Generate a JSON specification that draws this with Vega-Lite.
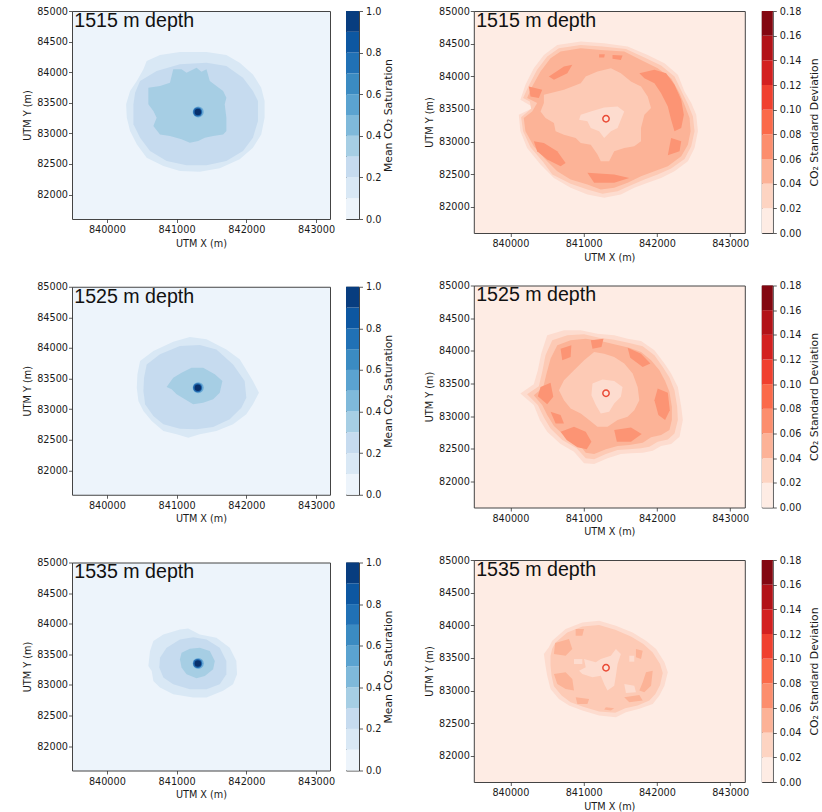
{
"$schema": "https://vega.github.io/schema/vega-lite/v6.json",
"autosize": "none",
"padding": {"left": 72, "top": 11, "right": 750, "bottom": 801},
"background": "white",
"config": {
 "font": "DejaVu Sans",
 "view": {"stroke": "#444"},
 "axis": {"labelFont": "DejaVu Sans", "labelFontSize": 9.7, "labelColor": "#1a1a1a", "titleFont": "DejaVu Sans", "titleFontSize": 9.7, "titleFontWeight": "normal", "titleColor": "#1a1a1a", "tickColor": "#333", "tickSize": 3.5, "tickWidth": 0.8, "domain": false, "grid": false, "labelFlush": false, "labelOverlap": false}
},
"datasets": {
 "cbS": [{"lo":0,"hi":0.1,"b":"b0"},{"lo":0.1,"hi":0.2,"b":"b1"},{"lo":0.2,"hi":0.3,"b":"b2"},{"lo":0.3,"hi":0.4,"b":"b3"},{"lo":0.4,"hi":0.5,"b":"b4"},{"lo":0.5,"hi":0.6,"b":"b5"},{"lo":0.6,"hi":0.7,"b":"b6"},{"lo":0.7,"hi":0.8,"b":"b7"},{"lo":0.8,"hi":0.9,"b":"b8"},{"lo":0.9,"hi":1.0,"b":"b9"}],
 "cbR": [{"lo":0,"hi":0.02,"b":"r0"},{"lo":0.02,"hi":0.04,"b":"r1"},{"lo":0.04,"hi":0.06,"b":"r2"},{"lo":0.06,"hi":0.08,"b":"r3"},{"lo":0.08,"hi":0.1,"b":"r4"},{"lo":0.1,"hi":0.12,"b":"r5"},{"lo":0.12,"hi":0.14,"b":"r6"},{"lo":0.14,"hi":0.16,"b":"r7"},{"lo":0.16,"hi":0.18,"b":"r8"}],
 "dots": [{"x":841310,"y":83350,"b":"d1"},{"x":841302,"y":83350,"b":"d2"},{"x":841305,"y":83350,"b":"d3"}],
 "ring": [{"x":841305,"y":83350}],
 "sat1515": [
{"p":1,"b":"B1","x":840524,"y":84046},{"p":1,"b":"B1","x":840571,"y":84182},{"p":1,"b":"B1","x":840762,"y":84281},{"p":1,"b":"B1","x":841048,"y":84330},{"p":1,"b":"B1","x":841429,"y":84330},{"p":1,"b":"B1","x":841714,"y":84281},{"p":1,"b":"B1","x":841905,"y":84155},{"p":1,"b":"B1","x":842095,"y":83964},{"p":1,"b":"B1","x":842214,"y":83746},{"p":1,"b":"B1","x":842262,"y":83528},{"p":1,"b":"B1","x":842262,"y":83256},{"p":1,"b":"B1","x":842214,"y":82983},{"p":1,"b":"B1","x":842095,"y":82765},{"p":1,"b":"B1","x":841905,"y":82575},{"p":1,"b":"B1","x":841619,"y":82428},{"p":1,"b":"B1","x":841333,"y":82373},{"p":1,"b":"B1","x":841048,"y":82384},{"p":1,"b":"B1","x":840810,"y":82466},{"p":1,"b":"B1","x":840571,"y":82602},{"p":1,"b":"B1","x":840429,"y":82820},{"p":1,"b":"B1","x":840333,"y":83038},{"p":1,"b":"B1","x":840286,"y":83256},{"p":1,"b":"B1","x":840276,"y":83474},{"p":1,"b":"B1","x":840333,"y":83692},{"p":1,"b":"B1","x":840429,"y":83855},
{"p":2,"b":"B2","x":840476,"y":83855},{"p":2,"b":"B2","x":840714,"y":84019},{"p":2,"b":"B2","x":841048,"y":84128},{"p":2,"b":"B2","x":841429,"y":84155},{"p":2,"b":"B2","x":841714,"y":84101},{"p":2,"b":"B2","x":841952,"y":83910},{"p":2,"b":"B2","x":842095,"y":83692},{"p":2,"b":"B2","x":842167,"y":83528},{"p":2,"b":"B2","x":842167,"y":83201},{"p":2,"b":"B2","x":842095,"y":82929},{"p":2,"b":"B2","x":841952,"y":82711},{"p":2,"b":"B2","x":841714,"y":82547},{"p":2,"b":"B2","x":841429,"y":82477},{"p":2,"b":"B2","x":841143,"y":82477},{"p":2,"b":"B2","x":840857,"y":82547},{"p":2,"b":"B2","x":840619,"y":82711},{"p":2,"b":"B2","x":840476,"y":82929},{"p":2,"b":"B2","x":840381,"y":83147},{"p":2,"b":"B2","x":840381,"y":83474},{"p":2,"b":"B2","x":840405,"y":83665},
{"p":3,"b":"B3","x":840595,"y":83746},{"p":3,"b":"B3","x":840762,"y":83774},{"p":3,"b":"B3","x":840905,"y":83828},{"p":3,"b":"B3","x":840952,"y":84046},{"p":3,"b":"B3","x":841071,"y":84046},{"p":3,"b":"B3","x":841143,"y":83992},{"p":3,"b":"B3","x":841214,"y":84030},{"p":3,"b":"B3","x":841286,"y":84073},{"p":3,"b":"B3","x":841357,"y":84008},{"p":3,"b":"B3","x":841429,"y":84046},{"p":3,"b":"B3","x":841476,"y":83855},{"p":3,"b":"B3","x":841571,"y":83774},{"p":3,"b":"B3","x":841667,"y":83692},{"p":3,"b":"B3","x":841714,"y":83583},{"p":3,"b":"B3","x":841690,"y":83474},{"p":3,"b":"B3","x":841714,"y":83256},{"p":3,"b":"B3","x":841714,"y":83038},{"p":3,"b":"B3","x":841667,"y":82983},{"p":3,"b":"B3","x":841524,"y":82956},{"p":3,"b":"B3","x":841405,"y":82929},{"p":3,"b":"B3","x":841310,"y":82874},{"p":3,"b":"B3","x":841190,"y":82847},{"p":3,"b":"B3","x":841071,"y":82902},{"p":3,"b":"B3","x":840905,"y":82956},{"p":3,"b":"B3","x":840762,"y":82983},{"p":3,"b":"B3","x":840667,"y":83120},{"p":3,"b":"B3","x":840714,"y":83256},{"p":3,"b":"B3","x":840667,"y":83365},{"p":3,"b":"B3","x":840595,"y":83474},{"p":3,"b":"B3","x":840595,"y":83637}
 ],
 "sat1525": [
{"p":1,"b":"B1","x":840476,"y":83786},{"p":1,"b":"B1","x":840667,"y":83949},{"p":1,"b":"B1","x":840952,"y":84102},{"p":1,"b":"B1","x":841190,"y":84178},{"p":1,"b":"B1","x":841429,"y":84140},{"p":1,"b":"B1","x":841714,"y":83976},{"p":1,"b":"B1","x":841905,"y":83813},{"p":1,"b":"B1","x":842024,"y":83595},{"p":1,"b":"B1","x":842095,"y":83459},{"p":1,"b":"B1","x":842181,"y":83268},{"p":1,"b":"B1","x":842095,"y":83078},{"p":1,"b":"B1","x":842000,"y":82915},{"p":1,"b":"B1","x":841810,"y":82751},{"p":1,"b":"B1","x":841571,"y":82642},{"p":1,"b":"B1","x":841333,"y":82588},{"p":1,"b":"B1","x":841167,"y":82533},{"p":1,"b":"B1","x":841000,"y":82588},{"p":1,"b":"B1","x":840810,"y":82642},{"p":1,"b":"B1","x":840643,"y":82806},{"p":1,"b":"B1","x":840524,"y":82969},{"p":1,"b":"B1","x":840452,"y":83132},{"p":1,"b":"B1","x":840429,"y":83350},{"p":1,"b":"B1","x":840438,"y":83568},
{"p":2,"b":"B2","x":840571,"y":83731},{"p":2,"b":"B2","x":840762,"y":83895},{"p":2,"b":"B2","x":841048,"y":84031},{"p":2,"b":"B2","x":841333,"y":84047},{"p":2,"b":"B2","x":841571,"y":83976},{"p":2,"b":"B2","x":841810,"y":83731},{"p":2,"b":"B2","x":841976,"y":83459},{"p":2,"b":"B2","x":842000,"y":83187},{"p":2,"b":"B2","x":841929,"y":83023},{"p":2,"b":"B2","x":841762,"y":82833},{"p":2,"b":"B2","x":841524,"y":82708},{"p":2,"b":"B2","x":841286,"y":82670},{"p":2,"b":"B2","x":841048,"y":82680},{"p":2,"b":"B2","x":840810,"y":82751},{"p":2,"b":"B2","x":840667,"y":82887},{"p":2,"b":"B2","x":840548,"y":83078},{"p":2,"b":"B2","x":840524,"y":83296},{"p":2,"b":"B2","x":840533,"y":83514},
{"p":3,"b":"B3","x":840857,"y":83361},{"p":3,"b":"B3","x":840952,"y":83514},{"p":3,"b":"B3","x":841071,"y":83595},{"p":3,"b":"B3","x":841214,"y":83677},{"p":3,"b":"B3","x":841381,"y":83677},{"p":3,"b":"B3","x":841548,"y":83568},{"p":3,"b":"B3","x":841657,"y":83459},{"p":3,"b":"B3","x":841619,"y":83268},{"p":3,"b":"B3","x":841524,"y":83160},{"p":3,"b":"B3","x":841381,"y":83105},{"p":3,"b":"B3","x":841238,"y":83078},{"p":3,"b":"B3","x":841119,"y":83160},{"p":3,"b":"B3","x":841000,"y":83241},{"p":3,"b":"B3","x":840929,"y":83323}
 ],
 "sat1535": [
{"p":1,"b":"B1","x":840667,"y":83715},{"p":1,"b":"B1","x":840810,"y":83824},{"p":1,"b":"B1","x":841048,"y":83905},{"p":1,"b":"B1","x":841167,"y":83921},{"p":1,"b":"B1","x":841333,"y":83824},{"p":1,"b":"B1","x":841571,"y":83770},{"p":1,"b":"B1","x":841762,"y":83607},{"p":1,"b":"B1","x":841857,"y":83390},{"p":1,"b":"B1","x":841867,"y":83173},{"p":1,"b":"B1","x":841810,"y":83011},{"p":1,"b":"B1","x":841667,"y":82902},{"p":1,"b":"B1","x":841429,"y":82794},{"p":1,"b":"B1","x":841238,"y":82794},{"p":1,"b":"B1","x":840952,"y":82848},{"p":1,"b":"B1","x":840762,"y":82957},{"p":1,"b":"B1","x":840667,"y":83065},{"p":1,"b":"B1","x":840643,"y":83228},{"p":1,"b":"B1","x":840595,"y":83309},{"p":1,"b":"B1","x":840619,"y":83553},
{"p":2,"b":"B2","x":840762,"y":83444},{"p":2,"b":"B2","x":840857,"y":83607},{"p":2,"b":"B2","x":841048,"y":83743},{"p":2,"b":"B2","x":841238,"y":83780},{"p":2,"b":"B2","x":841429,"y":83743},{"p":2,"b":"B2","x":841619,"y":83607},{"p":2,"b":"B2","x":841714,"y":83390},{"p":2,"b":"B2","x":841714,"y":83173},{"p":2,"b":"B2","x":841619,"y":83011},{"p":2,"b":"B2","x":841429,"y":82930},{"p":2,"b":"B2","x":841190,"y":82930},{"p":2,"b":"B2","x":840952,"y":83011},{"p":2,"b":"B2","x":840810,"y":83119},{"p":2,"b":"B2","x":840752,"y":83282},
{"p":3,"b":"B3","x":841071,"y":83526},{"p":3,"b":"B3","x":841190,"y":83591},{"p":3,"b":"B3","x":841333,"y":83607},{"p":3,"b":"B3","x":841476,"y":83553},{"p":3,"b":"B3","x":841548,"y":83390},{"p":3,"b":"B3","x":841524,"y":83255},{"p":3,"b":"B3","x":841405,"y":83146},{"p":3,"b":"B3","x":841286,"y":83108},{"p":3,"b":"B3","x":841143,"y":83173},{"p":3,"b":"B3","x":841071,"y":83282},{"p":3,"b":"B3","x":841048,"y":83417}
 ],
 "sd1515": [
{"p":1,"b":"c1","x":840639,"y":84480},{"p":1,"b":"c1","x":840960,"y":84531},{"p":1,"b":"c1","x":841280,"y":84506},{"p":1,"b":"c1","x":841600,"y":84455},{"p":1,"b":"c1","x":841874,"y":84328},{"p":1,"b":"c1","x":842103,"y":84200},{"p":1,"b":"c1","x":842286,"y":84022},{"p":1,"b":"c1","x":842377,"y":83768},{"p":1,"b":"c1","x":842469,"y":83590},{"p":1,"b":"c1","x":842537,"y":83411},{"p":1,"b":"c1","x":842560,"y":83157},{"p":1,"b":"c1","x":842514,"y":82902},{"p":1,"b":"c1","x":842423,"y":82699},{"p":1,"b":"c1","x":842240,"y":82546},{"p":1,"b":"c1","x":842057,"y":82444},{"p":1,"b":"c1","x":841874,"y":82368},{"p":1,"b":"c1","x":841691,"y":82292},{"p":1,"b":"c1","x":841508,"y":82190},{"p":1,"b":"c1","x":841280,"y":82139},{"p":1,"b":"c1","x":841051,"y":82190},{"p":1,"b":"c1","x":840822,"y":82292},{"p":1,"b":"c1","x":840594,"y":82444},{"p":1,"b":"c1","x":840411,"y":82648},{"p":1,"b":"c1","x":840228,"y":82902},{"p":1,"b":"c1","x":840136,"y":83157},{"p":1,"b":"c1","x":840114,"y":83411},{"p":1,"b":"c1","x":840319,"y":83523},{"p":1,"b":"c1","x":840136,"y":83641},{"p":1,"b":"c1","x":840205,"y":83870},{"p":1,"b":"c1","x":840319,"y":84124},{"p":1,"b":"c1","x":840457,"y":84328},
{"p":2,"b":"c2","x":840662,"y":84429},{"p":2,"b":"c2","x":840960,"y":84480},{"p":2,"b":"c2","x":841257,"y":84455},{"p":2,"b":"c2","x":841577,"y":84419},{"p":2,"b":"c2","x":841829,"y":84287},{"p":2,"b":"c2","x":842057,"y":84165},{"p":2,"b":"c2","x":842240,"y":83997},{"p":2,"b":"c2","x":842345,"y":83753},{"p":2,"b":"c2","x":842423,"y":83575},{"p":2,"b":"c2","x":842492,"y":83386},{"p":2,"b":"c2","x":842514,"y":83157},{"p":2,"b":"c2","x":842469,"y":82928},{"p":2,"b":"c2","x":842377,"y":82735},{"p":2,"b":"c2","x":842194,"y":82587},{"p":2,"b":"c2","x":842011,"y":82495},{"p":2,"b":"c2","x":841829,"y":82419},{"p":2,"b":"c2","x":841646,"y":82333},{"p":2,"b":"c2","x":841463,"y":82241},{"p":2,"b":"c2","x":841257,"y":82200},{"p":2,"b":"c2","x":841051,"y":82266},{"p":2,"b":"c2","x":840822,"y":82353},{"p":2,"b":"c2","x":840572,"y":82495},{"p":2,"b":"c2","x":840447,"y":82689},{"p":2,"b":"c2","x":840274,"y":82912},{"p":2,"b":"c2","x":840173,"y":83157},{"p":2,"b":"c2","x":840146,"y":83371},{"p":2,"b":"c2","x":840283,"y":83503},{"p":2,"b":"c2","x":840265,"y":83615},{"p":2,"b":"c2","x":840173,"y":83666},{"p":2,"b":"c2","x":840251,"y":83860},{"p":2,"b":"c2","x":840365,"y":84099},{"p":2,"b":"c2","x":840502,"y":84302},
{"p":3,"b":"c3","x":840685,"y":84379},{"p":3,"b":"c3","x":840960,"y":84429},{"p":3,"b":"c3","x":841234,"y":84404},{"p":3,"b":"c3","x":841554,"y":84379},{"p":3,"b":"c3","x":841783,"y":84251},{"p":3,"b":"c3","x":842011,"y":84124},{"p":3,"b":"c3","x":842194,"y":83971},{"p":3,"b":"c3","x":842309,"y":83742},{"p":3,"b":"c3","x":842377,"y":83564},{"p":3,"b":"c3","x":842446,"y":83361},{"p":3,"b":"c3","x":842460,"y":83157},{"p":3,"b":"c3","x":842423,"y":82953},{"p":3,"b":"c3","x":842332,"y":82775},{"p":3,"b":"c3","x":842149,"y":82623},{"p":3,"b":"c3","x":841966,"y":82546},{"p":3,"b":"c3","x":841783,"y":82470},{"p":3,"b":"c3","x":841600,"y":82368},{"p":3,"b":"c3","x":841417,"y":82292},{"p":3,"b":"c3","x":841234,"y":82266},{"p":3,"b":"c3","x":841051,"y":82343},{"p":3,"b":"c3","x":840822,"y":82419},{"p":3,"b":"c3","x":840639,"y":82546},{"p":3,"b":"c3","x":840479,"y":82724},{"p":3,"b":"c3","x":840319,"y":82928},{"p":3,"b":"c3","x":840205,"y":83157},{"p":3,"b":"c3","x":840182,"y":83361},{"p":3,"b":"c3","x":840297,"y":83462},{"p":3,"b":"c3","x":840365,"y":83590},{"p":3,"b":"c3","x":840228,"y":83666},{"p":3,"b":"c3","x":840297,"y":83844},{"p":3,"b":"c3","x":840411,"y":84073},{"p":3,"b":"c3","x":840548,"y":84277},
{"p":4,"b":"c4","x":840525,"y":83997},{"p":4,"b":"c4","x":840731,"y":84150},{"p":4,"b":"c4","x":840845,"y":84175},{"p":4,"b":"c4","x":840777,"y":84048},{"p":4,"b":"c4","x":840594,"y":83946},
{"p":5,"b":"c4","x":841394,"y":84328},{"p":5,"b":"c4","x":841531,"y":84318},{"p":5,"b":"c4","x":841508,"y":84251},{"p":5,"b":"c4","x":841394,"y":84267},
{"p":6,"b":"c4","x":841211,"y":84338},{"p":6,"b":"c4","x":841289,"y":84338},{"p":6,"b":"c4","x":841280,"y":84287},{"p":6,"b":"c4","x":841211,"y":84287},
{"p":7,"b":"c4","x":841760,"y":84048},{"p":7,"b":"c4","x":841966,"y":84099},{"p":7,"b":"c4","x":842126,"y":84048},{"p":7,"b":"c4","x":842240,"y":83870},{"p":7,"b":"c4","x":842332,"y":83641},{"p":7,"b":"c4","x":842368,"y":83411},{"p":7,"b":"c4","x":842332,"y":83208},{"p":7,"b":"c4","x":842240,"y":83157},{"p":7,"b":"c4","x":842194,"y":83335},{"p":7,"b":"c4","x":842149,"y":83539},{"p":7,"b":"c4","x":842057,"y":83742},{"p":7,"b":"c4","x":841966,"y":83895},{"p":7,"b":"c4","x":841829,"y":83971},
{"p":8,"b":"c4","x":842194,"y":83055},{"p":8,"b":"c4","x":842332,"y":83004},{"p":8,"b":"c4","x":842309,"y":82852},{"p":8,"b":"c4","x":842149,"y":82791},
{"p":9,"b":"c4","x":840319,"y":83004},{"p":9,"b":"c4","x":840457,"y":82979},{"p":9,"b":"c4","x":840639,"y":82852},{"p":9,"b":"c4","x":840754,"y":82673},{"p":9,"b":"c4","x":840685,"y":82623},{"p":9,"b":"c4","x":840502,"y":82724},{"p":9,"b":"c4","x":840365,"y":82852},
{"p":10,"b":"c4","x":841051,"y":82521},{"p":10,"b":"c4","x":841417,"y":82495},{"p":10,"b":"c4","x":841623,"y":82444},{"p":10,"b":"c4","x":841417,"y":82368},{"p":10,"b":"c4","x":841143,"y":82368},
{"p":11,"b":"c4","x":840251,"y":83844},{"p":11,"b":"c4","x":840434,"y":83793},{"p":11,"b":"c4","x":840388,"y":83666},{"p":11,"b":"c4","x":840274,"y":83691},
{"p":12,"b":"c2","x":840457,"y":83717},{"p":12,"b":"c2","x":840731,"y":83793},{"p":12,"b":"c2","x":840960,"y":83895},{"p":12,"b":"c2","x":841028,"y":83997},{"p":12,"b":"c2","x":841189,"y":84073},{"p":12,"b":"c2","x":841372,"y":84124},{"p":12,"b":"c2","x":841508,"y":84048},{"p":12,"b":"c2","x":841646,"y":83920},{"p":12,"b":"c2","x":841783,"y":83844},{"p":12,"b":"c2","x":841874,"y":83691},{"p":12,"b":"c2","x":841920,"y":83513},{"p":12,"b":"c2","x":841829,"y":83411},{"p":12,"b":"c2","x":841783,"y":83208},{"p":12,"b":"c2","x":841783,"y":83004},{"p":12,"b":"c2","x":841691,"y":82928},{"p":12,"b":"c2","x":841554,"y":82902},{"p":12,"b":"c2","x":841417,"y":82852},{"p":12,"b":"c2","x":841348,"y":82699},{"p":12,"b":"c2","x":841234,"y":82699},{"p":12,"b":"c2","x":841189,"y":82801},{"p":12,"b":"c2","x":841097,"y":82953},{"p":12,"b":"c2","x":840960,"y":82979},{"p":12,"b":"c2","x":840891,"y":83055},{"p":12,"b":"c2","x":840731,"y":83106},{"p":12,"b":"c2","x":840617,"y":83157},{"p":12,"b":"c2","x":840594,"y":83284},{"p":12,"b":"c2","x":840479,"y":83361},{"p":12,"b":"c2","x":840411,"y":83462},{"p":12,"b":"c2","x":840457,"y":83590},
{"p":13,"b":"c1","x":840960,"y":83411},{"p":13,"b":"c1","x":841097,"y":83462},{"p":13,"b":"c1","x":841280,"y":83523},{"p":13,"b":"c1","x":841463,"y":83539},{"p":13,"b":"c1","x":841554,"y":83462},{"p":13,"b":"c1","x":841508,"y":83335},{"p":13,"b":"c1","x":841463,"y":83208},{"p":13,"b":"c1","x":841372,"y":83157},{"p":13,"b":"c1","x":841280,"y":83055},{"p":13,"b":"c1","x":841211,"y":83157},{"p":13,"b":"c1","x":841097,"y":83208},{"p":13,"b":"c1","x":841051,"y":83310},{"p":13,"b":"c1","x":840937,"y":83335}
 ],
 "sd1525": [
{"p":1,"b":"c1","x":840502,"y":84237},{"p":1,"b":"c1","x":840731,"y":84313},{"p":1,"b":"c1","x":840960,"y":84313},{"p":1,"b":"c1","x":841188,"y":84262},{"p":1,"b":"c1","x":841417,"y":84237},{"p":1,"b":"c1","x":841600,"y":84186},{"p":1,"b":"c1","x":841783,"y":84150},{"p":1,"b":"c1","x":841966,"y":84007},{"p":1,"b":"c1","x":842103,"y":83804},{"p":1,"b":"c1","x":842194,"y":83651},{"p":1,"b":"c1","x":842286,"y":83447},{"p":1,"b":"c1","x":842332,"y":83142},{"p":1,"b":"c1","x":842354,"y":82939},{"p":1,"b":"c1","x":842309,"y":82684},{"p":1,"b":"c1","x":842194,"y":82572},{"p":1,"b":"c1","x":842057,"y":82541},{"p":1,"b":"c1","x":841943,"y":82470},{"p":1,"b":"c1","x":841806,"y":82440},{"p":1,"b":"c1","x":841646,"y":82429},{"p":1,"b":"c1","x":841508,"y":82419},{"p":1,"b":"c1","x":841326,"y":82353},{"p":1,"b":"c1","x":841143,"y":82267},{"p":1,"b":"c1","x":841006,"y":82277},{"p":1,"b":"c1","x":840868,"y":82455},{"p":1,"b":"c1","x":840685,"y":82572},{"p":1,"b":"c1","x":840502,"y":82760},{"p":1,"b":"c1","x":840402,"y":82939},{"p":1,"b":"c1","x":840319,"y":83168},{"p":1,"b":"c1","x":840136,"y":83346},{"p":1,"b":"c1","x":840319,"y":83488},{"p":1,"b":"c1","x":840374,"y":83702},{"p":1,"b":"c1","x":840420,"y":83956},
{"p":2,"b":"c2","x":840571,"y":84160},{"p":2,"b":"c2","x":840777,"y":84237},{"p":2,"b":"c2","x":841006,"y":84252},{"p":2,"b":"c2","x":841211,"y":84201},{"p":2,"b":"c2","x":841417,"y":84170},{"p":2,"b":"c2","x":841623,"y":84119},{"p":2,"b":"c2","x":841806,"y":84068},{"p":2,"b":"c2","x":841966,"y":83931},{"p":2,"b":"c2","x":842080,"y":83753},{"p":2,"b":"c2","x":842171,"y":83590},{"p":2,"b":"c2","x":842240,"y":83397},{"p":2,"b":"c2","x":842277,"y":83142},{"p":2,"b":"c2","x":842286,"y":82939},{"p":2,"b":"c2","x":842240,"y":82735},{"p":2,"b":"c2","x":842149,"y":82643},{"p":2,"b":"c2","x":842011,"y":82608},{"p":2,"b":"c2","x":841897,"y":82531},{"p":2,"b":"c2","x":841783,"y":82506},{"p":2,"b":"c2","x":841623,"y":82491},{"p":2,"b":"c2","x":841463,"y":82480},{"p":2,"b":"c2","x":841303,"y":82419},{"p":2,"b":"c2","x":841143,"y":82338},{"p":2,"b":"c2","x":841028,"y":82353},{"p":2,"b":"c2","x":840905,"y":82506},{"p":2,"b":"c2","x":840708,"y":82633},{"p":2,"b":"c2","x":840548,"y":82811},{"p":2,"b":"c2","x":840457,"y":82979},{"p":2,"b":"c2","x":840374,"y":83168},{"p":2,"b":"c2","x":840228,"y":83336},{"p":2,"b":"c2","x":840388,"y":83458},{"p":2,"b":"c2","x":840434,"y":83677},{"p":2,"b":"c2","x":840479,"y":83931},
{"p":3,"b":"c3","x":840640,"y":84084},{"p":3,"b":"c3","x":840822,"y":84160},{"p":3,"b":"c3","x":841028,"y":84186},{"p":3,"b":"c3","x":841234,"y":84150},{"p":3,"b":"c3","x":841417,"y":84099},{"p":3,"b":"c3","x":841623,"y":84048},{"p":3,"b":"c3","x":841783,"y":83982},{"p":3,"b":"c3","x":841920,"y":83855},{"p":3,"b":"c3","x":842034,"y":83702},{"p":3,"b":"c3","x":842112,"y":83539},{"p":3,"b":"c3","x":842171,"y":83371},{"p":3,"b":"c3","x":842204,"y":83142},{"p":3,"b":"c3","x":842204,"y":82939},{"p":3,"b":"c3","x":842171,"y":82786},{"p":3,"b":"c3","x":842057,"y":82709},{"p":3,"b":"c3","x":841920,"y":82674},{"p":3,"b":"c3","x":841806,"y":82592},{"p":3,"b":"c3","x":841623,"y":82557},{"p":3,"b":"c3","x":841463,"y":82542},{"p":3,"b":"c3","x":841303,"y":82491},{"p":3,"b":"c3","x":841143,"y":82419},{"p":3,"b":"c3","x":841028,"y":82440},{"p":3,"b":"c3","x":840937,"y":82572},{"p":3,"b":"c3","x":840754,"y":82684},{"p":3,"b":"c3","x":840594,"y":82847},{"p":3,"b":"c3","x":840502,"y":83015},{"p":3,"b":"c3","x":840434,"y":83168},{"p":3,"b":"c3","x":840319,"y":83320},{"p":3,"b":"c3","x":840447,"y":83437},{"p":3,"b":"c3","x":840493,"y":83651},{"p":3,"b":"c3","x":840548,"y":83880},
{"p":4,"b":"c4","x":840411,"y":83447},{"p":4,"b":"c4","x":840548,"y":83509},{"p":4,"b":"c4","x":840585,"y":83295},{"p":4,"b":"c4","x":840502,"y":83183},{"p":4,"b":"c4","x":840374,"y":83305},
{"p":5,"b":"c4","x":840548,"y":83066},{"p":5,"b":"c4","x":840685,"y":83015},{"p":5,"b":"c4","x":840731,"y":82888},{"p":5,"b":"c4","x":840617,"y":82888},
{"p":6,"b":"c4","x":840685,"y":82760},{"p":6,"b":"c4","x":840868,"y":82837},{"p":6,"b":"c4","x":841028,"y":82760},{"p":6,"b":"c4","x":841106,"y":82608},{"p":6,"b":"c4","x":841042,"y":82491},{"p":6,"b":"c4","x":840914,"y":82521},{"p":6,"b":"c4","x":840768,"y":82633},
{"p":7,"b":"c4","x":841417,"y":82786},{"p":7,"b":"c4","x":841646,"y":82827},{"p":7,"b":"c4","x":841792,"y":82725},{"p":7,"b":"c4","x":841646,"y":82608},{"p":7,"b":"c4","x":841453,"y":82608},
{"p":8,"b":"c4","x":842011,"y":83422},{"p":8,"b":"c4","x":842149,"y":83356},{"p":8,"b":"c4","x":842176,"y":83091},{"p":8,"b":"c4","x":842112,"y":82939},{"p":8,"b":"c4","x":842020,"y":83015},{"p":8,"b":"c4","x":841966,"y":83244},
{"p":9,"b":"c4","x":841600,"y":84048},{"p":9,"b":"c4","x":841783,"y":83956},{"p":9,"b":"c4","x":841911,"y":83804},{"p":9,"b":"c4","x":841806,"y":83753},{"p":9,"b":"c4","x":841636,"y":83895},
{"p":10,"b":"c4","x":840685,"y":84033},{"p":10,"b":"c4","x":840832,"y":84084},{"p":10,"b":"c4","x":840822,"y":83906},{"p":10,"b":"c4","x":840708,"y":83855},
{"p":11,"b":"c4","x":841097,"y":84160},{"p":11,"b":"c4","x":841271,"y":84186},{"p":11,"b":"c4","x":841243,"y":84058},{"p":11,"b":"c4","x":841120,"y":84033},
{"p":12,"b":"c2","x":840731,"y":83549},{"p":12,"b":"c2","x":840868,"y":83702},{"p":12,"b":"c2","x":841006,"y":83855},{"p":12,"b":"c2","x":841143,"y":83982},{"p":12,"b":"c2","x":841280,"y":83956},{"p":12,"b":"c2","x":841417,"y":83906},{"p":12,"b":"c2","x":841554,"y":83804},{"p":12,"b":"c2","x":841669,"y":83651},{"p":12,"b":"c2","x":841737,"y":83447},{"p":12,"b":"c2","x":841760,"y":83244},{"p":12,"b":"c2","x":841691,"y":83091},{"p":12,"b":"c2","x":841600,"y":82989},{"p":12,"b":"c2","x":841463,"y":82939},{"p":12,"b":"c2","x":841326,"y":82837},{"p":12,"b":"c2","x":841188,"y":82837},{"p":12,"b":"c2","x":841074,"y":82939},{"p":12,"b":"c2","x":840960,"y":83040},{"p":12,"b":"c2","x":840822,"y":83117},{"p":12,"b":"c2","x":840731,"y":83244},{"p":12,"b":"c2","x":840662,"y":83397},
{"p":13,"b":"c1","x":841120,"y":83498},{"p":13,"b":"c1","x":841257,"y":83560},{"p":13,"b":"c1","x":841417,"y":83539},{"p":13,"b":"c1","x":841531,"y":83447},{"p":13,"b":"c1","x":841508,"y":83295},{"p":13,"b":"c1","x":841417,"y":83193},{"p":13,"b":"c1","x":841348,"y":83066},{"p":13,"b":"c1","x":841234,"y":83040},{"p":13,"b":"c1","x":841166,"y":83168},{"p":13,"b":"c1","x":841106,"y":83320}
 ],
 "sd1535": [
{"p":1,"b":"c1","x":840571,"y":83763},{"p":1,"b":"c1","x":840754,"y":83942},{"p":1,"b":"c1","x":840982,"y":84043},{"p":1,"b":"c1","x":841211,"y":84069},{"p":1,"b":"c1","x":841440,"y":83992},{"p":1,"b":"c1","x":841668,"y":83891},{"p":1,"b":"c1","x":841851,"y":83763},{"p":1,"b":"c1","x":841989,"y":83636},{"p":1,"b":"c1","x":842103,"y":83433},{"p":1,"b":"c1","x":842149,"y":83280},{"p":1,"b":"c1","x":842103,"y":83076},{"p":1,"b":"c1","x":842034,"y":82924},{"p":1,"b":"c1","x":841943,"y":82796},{"p":1,"b":"c1","x":841760,"y":82720},{"p":1,"b":"c1","x":841577,"y":82669},{"p":1,"b":"c1","x":841440,"y":82593},{"p":1,"b":"c1","x":841211,"y":82618},{"p":1,"b":"c1","x":840982,"y":82695},{"p":1,"b":"c1","x":840800,"y":82771},{"p":1,"b":"c1","x":840662,"y":82873},{"p":1,"b":"c1","x":840548,"y":83025},{"p":1,"b":"c1","x":840502,"y":83229},{"p":1,"b":"c1","x":840479,"y":83382},{"p":1,"b":"c1","x":840457,"y":83560},{"p":1,"b":"c1","x":840525,"y":83662},
{"p":2,"b":"c2","x":840617,"y":83738},{"p":2,"b":"c2","x":840777,"y":83891},{"p":2,"b":"c2","x":840982,"y":83982},{"p":2,"b":"c2","x":841211,"y":84003},{"p":2,"b":"c2","x":841431,"y":83931},{"p":2,"b":"c2","x":841646,"y":83830},{"p":2,"b":"c2","x":841815,"y":83713},{"p":2,"b":"c2","x":841943,"y":83585},{"p":2,"b":"c2","x":842043,"y":83407},{"p":2,"b":"c2","x":842080,"y":83270},{"p":2,"b":"c2","x":842043,"y":83086},{"p":2,"b":"c2","x":841979,"y":82949},{"p":2,"b":"c2","x":841897,"y":82847},{"p":2,"b":"c2","x":841737,"y":82771},{"p":2,"b":"c2","x":841568,"y":82730},{"p":2,"b":"c2","x":841431,"y":82659},{"p":2,"b":"c2","x":841211,"y":82679},{"p":2,"b":"c2","x":840992,"y":82751},{"p":2,"b":"c2","x":840822,"y":82822},{"p":2,"b":"c2","x":840699,"y":82924},{"p":2,"b":"c2","x":840594,"y":83066},{"p":2,"b":"c2","x":840562,"y":83229},{"p":2,"b":"c2","x":840548,"y":83382},{"p":2,"b":"c2","x":840548,"y":83534},{"p":2,"b":"c2","x":840571,"y":83646},
{"p":3,"b":"c3","x":840610,"y":83730},{"p":3,"b":"c3","x":840800,"y":83789},{"p":3,"b":"c3","x":840845,"y":83636},{"p":3,"b":"c3","x":840754,"y":83534},{"p":3,"b":"c3","x":840594,"y":83560},
{"p":4,"b":"c3","x":840891,"y":83942},{"p":4,"b":"c3","x":841005,"y":83942},{"p":4,"b":"c3","x":840982,"y":83840},{"p":4,"b":"c3","x":840891,"y":83840},
{"p":5,"b":"c3","x":840594,"y":83254},{"p":5,"b":"c3","x":840754,"y":83280},{"p":5,"b":"c3","x":840845,"y":83178},{"p":5,"b":"c3","x":840868,"y":83000},{"p":5,"b":"c3","x":840754,"y":83025},{"p":5,"b":"c3","x":840640,"y":83102},
{"p":6,"b":"c3","x":840891,"y":82898},{"p":6,"b":"c3","x":841074,"y":82873},{"p":6,"b":"c3","x":841051,"y":82796},{"p":6,"b":"c3","x":840914,"y":82796},
{"p":7,"b":"c3","x":841851,"y":83280},{"p":7,"b":"c3","x":841943,"y":83305},{"p":7,"b":"c3","x":841920,"y":83076},{"p":7,"b":"c3","x":841828,"y":82974},{"p":7,"b":"c3","x":841760,"y":83000},{"p":7,"b":"c3","x":841806,"y":83127},
{"p":8,"b":"c3","x":841554,"y":82898},{"p":8,"b":"c3","x":841760,"y":82934},{"p":8,"b":"c3","x":841806,"y":82847},{"p":8,"b":"c3","x":841623,"y":82822},
{"p":9,"b":"c3","x":841714,"y":83636},{"p":9,"b":"c3","x":841806,"y":83611},{"p":9,"b":"c3","x":841783,"y":83483},{"p":9,"b":"c3","x":841714,"y":83509},
{"p":10,"b":"c3","x":841303,"y":82745},{"p":10,"b":"c3","x":841417,"y":82730},{"p":10,"b":"c3","x":841371,"y":82695},{"p":10,"b":"c3","x":841280,"y":82710},
{"p":11,"b":"c1","x":841005,"y":83483},{"p":11,"b":"c1","x":841165,"y":83433},{"p":11,"b":"c1","x":841234,"y":83483},{"p":11,"b":"c1","x":841371,"y":83534},{"p":11,"b":"c1","x":841440,"y":83636},{"p":11,"b":"c1","x":841508,"y":83560},{"p":11,"b":"c1","x":841463,"y":83407},{"p":11,"b":"c1","x":841440,"y":83229},{"p":11,"b":"c1","x":841417,"y":83076},{"p":11,"b":"c1","x":841325,"y":83000},{"p":11,"b":"c1","x":841280,"y":83102},{"p":11,"b":"c1","x":841234,"y":83229},{"p":11,"b":"c1","x":841120,"y":83204},{"p":11,"b":"c1","x":840982,"y":83254},{"p":11,"b":"c1","x":840937,"y":83305},{"p":11,"b":"c1","x":841028,"y":83356},
{"p":12,"b":"c1","x":840868,"y":83483},{"p":12,"b":"c1","x":840982,"y":83483},{"p":12,"b":"c1","x":840982,"y":83407},{"p":12,"b":"c1","x":840868,"y":83407},
{"p":13,"b":"c1","x":841554,"y":83102},{"p":13,"b":"c1","x":841691,"y":83076},{"p":13,"b":"c1","x":841714,"y":82974},{"p":13,"b":"c1","x":841577,"y":82964},
{"p":14,"b":"c1","x":841623,"y":83534},{"p":14,"b":"c1","x":841691,"y":83534},{"p":14,"b":"c1","x":841691,"y":83443},{"p":14,"b":"c1","x":841623,"y":83443}
 ]
},
"spacing": 28.8,
"hconcat": [
 {"spacing": 31.75, "vconcat": [
  {"bounds": "flush", "spacing": 16, "hconcat": [
   {"width": 258, "height": 208, "view": {"fill": "#edf4fb", "stroke": "#444", "strokeWidth": 1},
    "encoding": {
     "x": {"field": "x", "type": "quantitative", "scale": {"domain": [839500, 843200], "nice": false, "zero": false}, "axis": {"values": [840000, 841000, 842000, 843000], "format": "d", "title": "UTM X (m)", "labelPadding": 2, "titlePadding": 4}},
     "y": {"field": "y", "type": "quantitative", "scale": {"domain": [81600, 85000], "nice": false, "zero": false}, "axis": {"values": [82000, 82500, 83000, 83500, 84000, 84500, 85000], "format": "d", "title": "UTM Y (m)", "labelPadding": 1, "titlePadding": 4}}
    },
    "layer": [
     {"data": {"name": "sat1515"}, "mark": {"type": "line", "strokeWidth": 0, "strokeOpacity": 0}, "encoding": {"detail": {"field": "p", "type": "nominal"}, "order": {"value": null}, "fill": {"field": "b", "type": "nominal", "legend": null, "scale": {"domain": ["B1","B2","B3","c1","c2","c3","c4","b0","b1","b2","b3","b4","b5","b6","b7","b8","b9","r0","r1","r2","r3","r4","r5","r6","r7","r8","d1","d2","d3"], "range": ["#d9e8f5","#c6dbef","#a6cee4","#fddccf","#fdcab5","#fcb397","#fc9474","#edf4fb","#d9e8f5","#c6dbef","#a6cee4","#7fb9da","#5ba3d0","#3b8bc2","#2171b5","#0d57a1","#083d7f","#feece4","#fdd4c2","#fcb297","#fc8e6e","#fb6a4a","#f0402f","#d32020","#b21218","#830711","#6aaad5","#2067ad","#08306b"]}}}},
     {"data": {"name": "dots"}, "mark": {"type": "point", "shape": "circle", "filled": true, "strokeWidth": 0, "opacity": 1}, "encoding": {"fill": {"field": "b", "type": "nominal", "legend": null, "scale": {"domain": ["B1","B2","B3","c1","c2","c3","c4","b0","b1","b2","b3","b4","b5","b6","b7","b8","b9","r0","r1","r2","r3","r4","r5","r6","r7","r8","d1","d2","d3"], "range": ["#d9e8f5","#c6dbef","#a6cee4","#fddccf","#fdcab5","#fcb397","#fc9474","#edf4fb","#d9e8f5","#c6dbef","#a6cee4","#7fb9da","#5ba3d0","#3b8bc2","#2171b5","#0d57a1","#083d7f","#feece4","#fdd4c2","#fcb297","#fc8e6e","#fb6a4a","#f0402f","#d32020","#b21218","#830711","#6aaad5","#2067ad","#08306b"]}}, "size": {"field": "b", "type": "ordinal", "legend": null, "scale": {"domain": ["d1","d2","d3"], "range": [121, 42, 12]}}}},
     {"data": {"values": [{"x": 839533, "y": 84740, "label": "1515 m depth"}]}, "mark": {"type": "text", "align": "left", "baseline": "alphabetic", "font": "Liberation Sans", "fontSize": 19.6, "fill": "#111"}, "encoding": {"text": {"field": "label", "type": "nominal"}}}
    ]},
   {"width": 13, "height": 208, "data": {"name": "cbS"}, "view": {"stroke": "#444", "strokeWidth": 1}, "mark": {"type": "rect"},
    "encoding": {
     "y": {"field": "lo", "type": "quantitative", "scale": {"domain": [0, 1], "nice": false, "zero": false}, "axis": {"orient": "right", "values": [0, 0.2, 0.4, 0.6, 0.8, 1], "format": ".1f", "title": "Mean CO₂ Saturation", "titleFontSize": 10.8, "titleAngle": 270, "titleBaseline": "top", "titlePadding": 2, "labelPadding": 3}},
     "y2": {"field": "hi"},
     "fill": {"field": "b", "type": "nominal", "legend": null, "scale": {"domain": ["B1","B2","B3","c1","c2","c3","c4","b0","b1","b2","b3","b4","b5","b6","b7","b8","b9","r0","r1","r2","r3","r4","r5","r6","r7","r8","d1","d2","d3"], "range": ["#d9e8f5","#c6dbef","#a6cee4","#fddccf","#fdcab5","#fcb397","#fc9474","#edf4fb","#d9e8f5","#c6dbef","#a6cee4","#7fb9da","#5ba3d0","#3b8bc2","#2171b5","#0d57a1","#083d7f","#feece4","#fdd4c2","#fcb297","#fc8e6e","#fb6a4a","#f0402f","#d32020","#b21218","#830711","#6aaad5","#2067ad","#08306b"]}}
    }}
  ]},
  {"bounds": "flush", "spacing": 16, "hconcat": [
   {"width": 258, "height": 208, "view": {"fill": "#edf4fb", "stroke": "#444", "strokeWidth": 1},
    "encoding": {
     "x": {"field": "x", "type": "quantitative", "scale": {"domain": [839500, 843200], "nice": false, "zero": false}, "axis": {"values": [840000, 841000, 842000, 843000], "format": "d", "title": "UTM X (m)", "labelPadding": 2, "titlePadding": 4}},
     "y": {"field": "y", "type": "quantitative", "scale": {"domain": [81600, 85000], "nice": false, "zero": false}, "axis": {"values": [82000, 82500, 83000, 83500, 84000, 84500, 85000], "format": "d", "title": "UTM Y (m)", "labelPadding": 1, "titlePadding": 4}}
    },
    "layer": [
     {"data": {"name": "sat1525"}, "mark": {"type": "line", "strokeWidth": 0, "strokeOpacity": 0}, "encoding": {"detail": {"field": "p", "type": "nominal"}, "order": {"value": null}, "fill": {"field": "b", "type": "nominal", "legend": null, "scale": {"domain": ["B1","B2","B3","c1","c2","c3","c4","b0","b1","b2","b3","b4","b5","b6","b7","b8","b9","r0","r1","r2","r3","r4","r5","r6","r7","r8","d1","d2","d3"], "range": ["#d9e8f5","#c6dbef","#a6cee4","#fddccf","#fdcab5","#fcb397","#fc9474","#edf4fb","#d9e8f5","#c6dbef","#a6cee4","#7fb9da","#5ba3d0","#3b8bc2","#2171b5","#0d57a1","#083d7f","#feece4","#fdd4c2","#fcb297","#fc8e6e","#fb6a4a","#f0402f","#d32020","#b21218","#830711","#6aaad5","#2067ad","#08306b"]}}}},
     {"data": {"name": "dots"}, "mark": {"type": "point", "shape": "circle", "filled": true, "strokeWidth": 0, "opacity": 1}, "encoding": {"fill": {"field": "b", "type": "nominal", "legend": null, "scale": {"domain": ["B1","B2","B3","c1","c2","c3","c4","b0","b1","b2","b3","b4","b5","b6","b7","b8","b9","r0","r1","r2","r3","r4","r5","r6","r7","r8","d1","d2","d3"], "range": ["#d9e8f5","#c6dbef","#a6cee4","#fddccf","#fdcab5","#fcb397","#fc9474","#edf4fb","#d9e8f5","#c6dbef","#a6cee4","#7fb9da","#5ba3d0","#3b8bc2","#2171b5","#0d57a1","#083d7f","#feece4","#fdd4c2","#fcb297","#fc8e6e","#fb6a4a","#f0402f","#d32020","#b21218","#830711","#6aaad5","#2067ad","#08306b"]}}, "size": {"field": "b", "type": "ordinal", "legend": null, "scale": {"domain": ["d1","d2","d3"], "range": [121, 42, 12]}}}},
     {"data": {"values": [{"x": 839533, "y": 84740, "label": "1525 m depth"}]}, "mark": {"type": "text", "align": "left", "baseline": "alphabetic", "font": "Liberation Sans", "fontSize": 19.6, "fill": "#111"}, "encoding": {"text": {"field": "label", "type": "nominal"}}}
    ]},
   {"width": 13, "height": 208, "data": {"name": "cbS"}, "view": {"stroke": "#444", "strokeWidth": 1}, "mark": {"type": "rect"},
    "encoding": {
     "y": {"field": "lo", "type": "quantitative", "scale": {"domain": [0, 1], "nice": false, "zero": false}, "axis": {"orient": "right", "values": [0, 0.2, 0.4, 0.6, 0.8, 1], "format": ".1f", "title": "Mean CO₂ Saturation", "titleFontSize": 10.8, "titleAngle": 270, "titleBaseline": "top", "titlePadding": 2, "labelPadding": 3}},
     "y2": {"field": "hi"},
     "fill": {"field": "b", "type": "nominal", "legend": null, "scale": {"domain": ["B1","B2","B3","c1","c2","c3","c4","b0","b1","b2","b3","b4","b5","b6","b7","b8","b9","r0","r1","r2","r3","r4","r5","r6","r7","r8","d1","d2","d3"], "range": ["#d9e8f5","#c6dbef","#a6cee4","#fddccf","#fdcab5","#fcb397","#fc9474","#edf4fb","#d9e8f5","#c6dbef","#a6cee4","#7fb9da","#5ba3d0","#3b8bc2","#2171b5","#0d57a1","#083d7f","#feece4","#fdd4c2","#fcb297","#fc8e6e","#fb6a4a","#f0402f","#d32020","#b21218","#830711","#6aaad5","#2067ad","#08306b"]}}
    }}
  ]},
  {"bounds": "flush", "spacing": 16, "hconcat": [
   {"width": 258, "height": 208, "view": {"fill": "#edf4fb", "stroke": "#444", "strokeWidth": 1},
    "encoding": {
     "x": {"field": "x", "type": "quantitative", "scale": {"domain": [839500, 843200], "nice": false, "zero": false}, "axis": {"values": [840000, 841000, 842000, 843000], "format": "d", "title": "UTM X (m)", "labelPadding": 2, "titlePadding": 4}},
     "y": {"field": "y", "type": "quantitative", "scale": {"domain": [81600, 85000], "nice": false, "zero": false}, "axis": {"values": [82000, 82500, 83000, 83500, 84000, 84500, 85000], "format": "d", "title": "UTM Y (m)", "labelPadding": 1, "titlePadding": 4}}
    },
    "layer": [
     {"data": {"name": "sat1535"}, "mark": {"type": "line", "strokeWidth": 0, "strokeOpacity": 0}, "encoding": {"detail": {"field": "p", "type": "nominal"}, "order": {"value": null}, "fill": {"field": "b", "type": "nominal", "legend": null, "scale": {"domain": ["B1","B2","B3","c1","c2","c3","c4","b0","b1","b2","b3","b4","b5","b6","b7","b8","b9","r0","r1","r2","r3","r4","r5","r6","r7","r8","d1","d2","d3"], "range": ["#d9e8f5","#c6dbef","#a6cee4","#fddccf","#fdcab5","#fcb397","#fc9474","#edf4fb","#d9e8f5","#c6dbef","#a6cee4","#7fb9da","#5ba3d0","#3b8bc2","#2171b5","#0d57a1","#083d7f","#feece4","#fdd4c2","#fcb297","#fc8e6e","#fb6a4a","#f0402f","#d32020","#b21218","#830711","#6aaad5","#2067ad","#08306b"]}}}},
     {"data": {"name": "dots"}, "mark": {"type": "point", "shape": "circle", "filled": true, "strokeWidth": 0, "opacity": 1}, "encoding": {"fill": {"field": "b", "type": "nominal", "legend": null, "scale": {"domain": ["B1","B2","B3","c1","c2","c3","c4","b0","b1","b2","b3","b4","b5","b6","b7","b8","b9","r0","r1","r2","r3","r4","r5","r6","r7","r8","d1","d2","d3"], "range": ["#d9e8f5","#c6dbef","#a6cee4","#fddccf","#fdcab5","#fcb397","#fc9474","#edf4fb","#d9e8f5","#c6dbef","#a6cee4","#7fb9da","#5ba3d0","#3b8bc2","#2171b5","#0d57a1","#083d7f","#feece4","#fdd4c2","#fcb297","#fc8e6e","#fb6a4a","#f0402f","#d32020","#b21218","#830711","#6aaad5","#2067ad","#08306b"]}}, "size": {"field": "b", "type": "ordinal", "legend": null, "scale": {"domain": ["d1","d2","d3"], "range": [140, 42, 12]}}}},
     {"data": {"values": [{"x": 839533, "y": 84740, "label": "1535 m depth"}]}, "mark": {"type": "text", "align": "left", "baseline": "alphabetic", "font": "Liberation Sans", "fontSize": 19.6, "fill": "#111"}, "encoding": {"text": {"field": "label", "type": "nominal"}}}
    ]},
   {"width": 13, "height": 208, "data": {"name": "cbS"}, "view": {"stroke": "#444", "strokeWidth": 1}, "mark": {"type": "rect"},
    "encoding": {
     "y": {"field": "lo", "type": "quantitative", "scale": {"domain": [0, 1], "nice": false, "zero": false}, "axis": {"orient": "right", "values": [0, 0.2, 0.4, 0.6, 0.8, 1], "format": ".1f", "title": "Mean CO₂ Saturation", "titleFontSize": 10.8, "titleAngle": 270, "titleBaseline": "top", "titlePadding": 2, "labelPadding": 3}},
     "y2": {"field": "hi"},
     "fill": {"field": "b", "type": "nominal", "legend": null, "scale": {"domain": ["B1","B2","B3","c1","c2","c3","c4","b0","b1","b2","b3","b4","b5","b6","b7","b8","b9","r0","r1","r2","r3","r4","r5","r6","r7","r8","d1","d2","d3"], "range": ["#d9e8f5","#c6dbef","#a6cee4","#fddccf","#fdcab5","#fcb397","#fc9474","#edf4fb","#d9e8f5","#c6dbef","#a6cee4","#7fb9da","#5ba3d0","#3b8bc2","#2171b5","#0d57a1","#083d7f","#feece4","#fdd4c2","#fcb297","#fc8e6e","#fb6a4a","#f0402f","#d32020","#b21218","#830711","#6aaad5","#2067ad","#08306b"]}}
    }}
  ]}
 ]},
 {"spacing": 16.5, "vconcat": [
  {"bounds": "flush", "spacing": 17, "hconcat": [
   {"width": 271, "height": 222, "view": {"fill": "#feece4", "stroke": "#444", "strokeWidth": 1},
    "encoding": {
     "x": {"field": "x", "type": "quantitative", "scale": {"domain": [839500, 843200], "nice": false, "zero": false}, "axis": {"values": [840000, 841000, 842000, 843000], "format": "d", "title": "UTM X (m)", "labelPadding": 2, "titlePadding": 4}},
     "y": {"field": "y", "type": "quantitative", "scale": {"domain": [81600, 85000], "nice": false, "zero": false}, "axis": {"values": [82000, 82500, 83000, 83500, 84000, 84500, 85000], "format": "d", "title": "UTM Y (m)", "labelPadding": 1, "titlePadding": 4}}
    },
    "layer": [
     {"data": {"name": "sd1515"}, "mark": {"type": "line", "strokeWidth": 0, "strokeOpacity": 0}, "encoding": {"detail": {"field": "p", "type": "nominal"}, "order": {"value": null}, "fill": {"field": "b", "type": "nominal", "legend": null, "scale": {"domain": ["B1","B2","B3","c1","c2","c3","c4","b0","b1","b2","b3","b4","b5","b6","b7","b8","b9","r0","r1","r2","r3","r4","r5","r6","r7","r8","d1","d2","d3"], "range": ["#d9e8f5","#c6dbef","#a6cee4","#fddccf","#fdcab5","#fcb397","#fc9474","#edf4fb","#d9e8f5","#c6dbef","#a6cee4","#7fb9da","#5ba3d0","#3b8bc2","#2171b5","#0d57a1","#083d7f","#feece4","#fdd4c2","#fcb297","#fc8e6e","#fb6a4a","#f0402f","#d32020","#b21218","#830711","#6aaad5","#2067ad","#08306b"]}}}},
     {"data": {"name": "ring"}, "mark": {"type": "point", "shape": "circle", "size": 40, "filled": true, "fill": "#fee3d8", "stroke": "#ea4b36", "strokeWidth": 1.5, "opacity": 1}},
     {"data": {"values": [{"x": 839533, "y": 84760, "label": "1515 m depth"}]}, "mark": {"type": "text", "align": "left", "baseline": "alphabetic", "font": "Liberation Sans", "fontSize": 19.6, "fill": "#111"}, "encoding": {"text": {"field": "label", "type": "nominal"}}}
    ]},
   {"width": 11, "height": 222, "data": {"name": "cbR"}, "view": {"stroke": "#444", "strokeWidth": 1}, "mark": {"type": "rect"},
    "encoding": {
     "y": {"field": "lo", "type": "quantitative", "scale": {"domain": [0, 0.18], "nice": false, "zero": false}, "axis": {"orient": "right", "values": [0, 0.02, 0.04, 0.06, 0.08, 0.1, 0.12, 0.14, 0.16, 0.18], "format": ".2f", "title": "CO₂ Standard Deviation", "titleFontSize": 10.8, "titleAngle": 270, "titleBaseline": "top", "titlePadding": 8, "labelPadding": 3}},
     "y2": {"field": "hi"},
     "fill": {"field": "b", "type": "nominal", "legend": null, "scale": {"domain": ["B1","B2","B3","c1","c2","c3","c4","b0","b1","b2","b3","b4","b5","b6","b7","b8","b9","r0","r1","r2","r3","r4","r5","r6","r7","r8","d1","d2","d3"], "range": ["#d9e8f5","#c6dbef","#a6cee4","#fddccf","#fdcab5","#fcb397","#fc9474","#edf4fb","#d9e8f5","#c6dbef","#a6cee4","#7fb9da","#5ba3d0","#3b8bc2","#2171b5","#0d57a1","#083d7f","#feece4","#fdd4c2","#fcb297","#fc8e6e","#fb6a4a","#f0402f","#d32020","#b21218","#830711","#6aaad5","#2067ad","#08306b"]}}
    }}
  ]},
  {"bounds": "flush", "spacing": 17, "hconcat": [
   {"width": 271, "height": 222, "view": {"fill": "#feece4", "stroke": "#444", "strokeWidth": 1},
    "encoding": {
     "x": {"field": "x", "type": "quantitative", "scale": {"domain": [839500, 843200], "nice": false, "zero": false}, "axis": {"values": [840000, 841000, 842000, 843000], "format": "d", "title": "UTM X (m)", "labelPadding": 2, "titlePadding": 4}},
     "y": {"field": "y", "type": "quantitative", "scale": {"domain": [81600, 85000], "nice": false, "zero": false}, "axis": {"values": [82000, 82500, 83000, 83500, 84000, 84500, 85000], "format": "d", "title": "UTM Y (m)", "labelPadding": 1, "titlePadding": 4}}
    },
    "layer": [
     {"data": {"name": "sd1525"}, "mark": {"type": "line", "strokeWidth": 0, "strokeOpacity": 0}, "encoding": {"detail": {"field": "p", "type": "nominal"}, "order": {"value": null}, "fill": {"field": "b", "type": "nominal", "legend": null, "scale": {"domain": ["B1","B2","B3","c1","c2","c3","c4","b0","b1","b2","b3","b4","b5","b6","b7","b8","b9","r0","r1","r2","r3","r4","r5","r6","r7","r8","d1","d2","d3"], "range": ["#d9e8f5","#c6dbef","#a6cee4","#fddccf","#fdcab5","#fcb397","#fc9474","#edf4fb","#d9e8f5","#c6dbef","#a6cee4","#7fb9da","#5ba3d0","#3b8bc2","#2171b5","#0d57a1","#083d7f","#feece4","#fdd4c2","#fcb297","#fc8e6e","#fb6a4a","#f0402f","#d32020","#b21218","#830711","#6aaad5","#2067ad","#08306b"]}}}},
     {"data": {"name": "ring"}, "mark": {"type": "point", "shape": "circle", "size": 40, "filled": true, "fill": "#fee3d8", "stroke": "#ea4b36", "strokeWidth": 1.5, "opacity": 1}},
     {"data": {"values": [{"x": 839533, "y": 84760, "label": "1525 m depth"}]}, "mark": {"type": "text", "align": "left", "baseline": "alphabetic", "font": "Liberation Sans", "fontSize": 19.6, "fill": "#111"}, "encoding": {"text": {"field": "label", "type": "nominal"}}}
    ]},
   {"width": 11, "height": 222, "data": {"name": "cbR"}, "view": {"stroke": "#444", "strokeWidth": 1}, "mark": {"type": "rect"},
    "encoding": {
     "y": {"field": "lo", "type": "quantitative", "scale": {"domain": [0, 0.18], "nice": false, "zero": false}, "axis": {"orient": "right", "values": [0, 0.02, 0.04, 0.06, 0.08, 0.1, 0.12, 0.14, 0.16, 0.18], "format": ".2f", "title": "CO₂ Standard Deviation", "titleFontSize": 10.8, "titleAngle": 270, "titleBaseline": "top", "titlePadding": 8, "labelPadding": 3}},
     "y2": {"field": "hi"},
     "fill": {"field": "b", "type": "nominal", "legend": null, "scale": {"domain": ["B1","B2","B3","c1","c2","c3","c4","b0","b1","b2","b3","b4","b5","b6","b7","b8","b9","r0","r1","r2","r3","r4","r5","r6","r7","r8","d1","d2","d3"], "range": ["#d9e8f5","#c6dbef","#a6cee4","#fddccf","#fdcab5","#fcb397","#fc9474","#edf4fb","#d9e8f5","#c6dbef","#a6cee4","#7fb9da","#5ba3d0","#3b8bc2","#2171b5","#0d57a1","#083d7f","#feece4","#fdd4c2","#fcb297","#fc8e6e","#fb6a4a","#f0402f","#d32020","#b21218","#830711","#6aaad5","#2067ad","#08306b"]}}
    }}
  ]},
  {"bounds": "flush", "spacing": 17, "hconcat": [
   {"width": 271, "height": 222, "view": {"fill": "#feece4", "stroke": "#444", "strokeWidth": 1},
    "encoding": {
     "x": {"field": "x", "type": "quantitative", "scale": {"domain": [839500, 843200], "nice": false, "zero": false}, "axis": {"values": [840000, 841000, 842000, 843000], "format": "d", "title": "UTM X (m)", "labelPadding": 2, "titlePadding": 4}},
     "y": {"field": "y", "type": "quantitative", "scale": {"domain": [81600, 85000], "nice": false, "zero": false}, "axis": {"values": [82000, 82500, 83000, 83500, 84000, 84500, 85000], "format": "d", "title": "UTM Y (m)", "labelPadding": 1, "titlePadding": 4}}
    },
    "layer": [
     {"data": {"name": "sd1535"}, "mark": {"type": "line", "strokeWidth": 0, "strokeOpacity": 0}, "encoding": {"detail": {"field": "p", "type": "nominal"}, "order": {"value": null}, "fill": {"field": "b", "type": "nominal", "legend": null, "scale": {"domain": ["B1","B2","B3","c1","c2","c3","c4","b0","b1","b2","b3","b4","b5","b6","b7","b8","b9","r0","r1","r2","r3","r4","r5","r6","r7","r8","d1","d2","d3"], "range": ["#d9e8f5","#c6dbef","#a6cee4","#fddccf","#fdcab5","#fcb397","#fc9474","#edf4fb","#d9e8f5","#c6dbef","#a6cee4","#7fb9da","#5ba3d0","#3b8bc2","#2171b5","#0d57a1","#083d7f","#feece4","#fdd4c2","#fcb297","#fc8e6e","#fb6a4a","#f0402f","#d32020","#b21218","#830711","#6aaad5","#2067ad","#08306b"]}}}},
     {"data": {"name": "ring"}, "mark": {"type": "point", "shape": "circle", "size": 40, "filled": true, "fill": "#fee3d8", "stroke": "#ea4b36", "strokeWidth": 1.5, "opacity": 1}},
     {"data": {"values": [{"x": 839533, "y": 84760, "label": "1535 m depth"}]}, "mark": {"type": "text", "align": "left", "baseline": "alphabetic", "font": "Liberation Sans", "fontSize": 19.6, "fill": "#111"}, "encoding": {"text": {"field": "label", "type": "nominal"}}}
    ]},
   {"width": 11, "height": 222, "data": {"name": "cbR"}, "view": {"stroke": "#444", "strokeWidth": 1}, "mark": {"type": "rect"},
    "encoding": {
     "y": {"field": "lo", "type": "quantitative", "scale": {"domain": [0, 0.18], "nice": false, "zero": false}, "axis": {"orient": "right", "values": [0, 0.02, 0.04, 0.06, 0.08, 0.1, 0.12, 0.14, 0.16, 0.18], "format": ".2f", "title": "CO₂ Standard Deviation", "titleFontSize": 10.8, "titleAngle": 270, "titleBaseline": "top", "titlePadding": 8, "labelPadding": 3}},
     "y2": {"field": "hi"},
     "fill": {"field": "b", "type": "nominal", "legend": null, "scale": {"domain": ["B1","B2","B3","c1","c2","c3","c4","b0","b1","b2","b3","b4","b5","b6","b7","b8","b9","r0","r1","r2","r3","r4","r5","r6","r7","r8","d1","d2","d3"], "range": ["#d9e8f5","#c6dbef","#a6cee4","#fddccf","#fdcab5","#fcb397","#fc9474","#edf4fb","#d9e8f5","#c6dbef","#a6cee4","#7fb9da","#5ba3d0","#3b8bc2","#2171b5","#0d57a1","#083d7f","#feece4","#fdd4c2","#fcb297","#fc8e6e","#fb6a4a","#f0402f","#d32020","#b21218","#830711","#6aaad5","#2067ad","#08306b"]}}
    }}
  ]}
 ]}
]
}
